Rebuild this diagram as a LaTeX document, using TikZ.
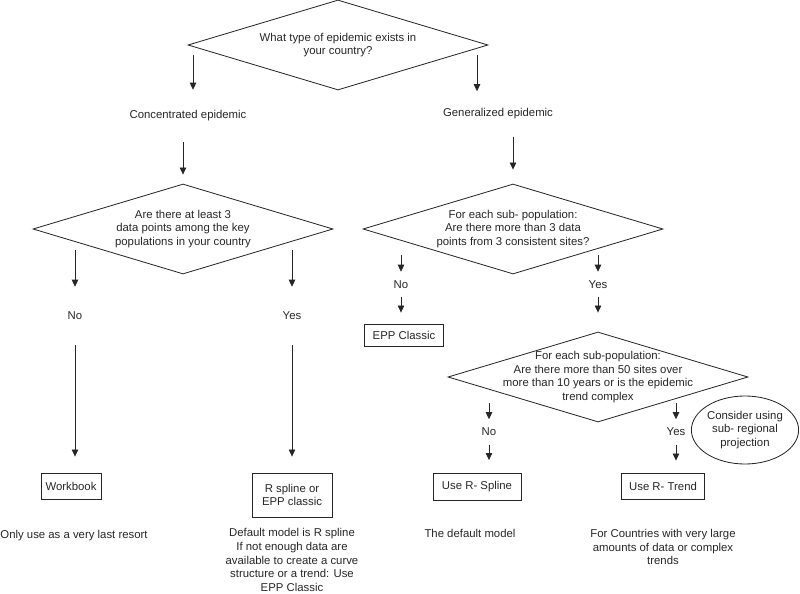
\documentclass[tikz,border=0pt]{standalone}
\usepackage{fontspec}
\setmainfont{Liberation Sans}
\usetikzlibrary{shapes.geometric,arrows.meta}

\begin{document}
\begin{tikzpicture}[x=0.03cm,y=-0.03cm,
  every node/.style={font=\fontsize{9.7}{11.7}\selectfont, text=black!85},
  decision/.style={diamond, draw=black!85, line width=0.7pt, minimum width=9cm, minimum height=2.7cm, inner sep=0},
  qtext/.style={align=center, inner sep=0},
  box/.style={draw=black!85, line width=0.7pt, align=center, inner sep=2pt},
  lbl/.style={inner sep=0, minimum height=#1},
  lbl/.default=0.75cm,
  note/.style={align=center, inner sep=0},
  arr/.style={draw=black!85, line width=0.7pt, -{Triangle[length=6pt,width=5.5pt]}},
]
  \useasboundingbox (0,0) rectangle (800,594);

  % type of epidemic
  \node[decision] (q1) at (338,45) {};
  \node[qtext] (q1t) at (q1) {What type of epidemic exists in\\your country?};
  \coordinate (q1l) at (193,55);
  \coordinate (q1r) at (477,55);
  \node[lbl=1.56cm] (conc) at (188,116) {Concentrated epidemic};
  \node[lbl=1.35cm] (gen) at (498,114) {Generalized epidemic};
  \draw[arr] (q1l) -- (q1l |- conc.north);
  \draw[arr] (q1r) -- (q1r |- gen.north);

  % concentrated branch
  \node[decision] (q2) at (183,229) {};
  \node[qtext] (q2t) at (q2) {Are there at least 3\\data points among the key\\populations in your country};
  \draw[arr, shorten >=0.27cm] (conc.south -| q2.north) -- (q2.north);
  \coordinate (q2l) at (75,250);
  \coordinate (q2r) at (292,250);
  \node[lbl=1.74cm] (no1) at (75,316) {No};
  \node[lbl=1.74cm] (yes1) at (292,316) {Yes};
  \draw[arr] (q2l) -- (no1.north);
  \draw[arr] (q2r) -- (yes1.north);
  \node[box, minimum width=1.8cm, minimum height=0.78cm] (wb) at (71,486) {Workbook};
  \node[box, minimum width=2.4cm, minimum height=1.32cm] (rs) at (292,495) {R spline or\\EPP classic};
  \draw[arr, shorten >=0.48cm] (no1.south) -- (no1.south |- wb.north);
  \draw[arr, shorten >=0.48cm] (yes1.south) -- (rs.north);
  \node[note] (n1) at (74,536) {Only use as a very last resort};
  \node[note] (n2) at (292,560) {Default model is R spline\\If not enough data are\\available to create a curve\\structure or a trend: Use\\EPP Classic};

  % generalized branch
  \node[decision] (q3) at (513,229) {};
  \node[qtext] (q3t) at (q3) {For each sub- population:\\Are there more than 3 data\\points from 3 consistent sites?};
  \draw[arr, shorten >=0.42cm] (gen.south -| q3.north) -- (q3.north);
  \coordinate (q3l) at (401,255);
  \coordinate (q3r) at (598,255);
  \node[lbl] (no2) at (401,284.5) {No};
  \node[lbl] (yes2) at (598,284.5) {Yes};
  \draw[arr] (q3l) -- (no2.north);
  \draw[arr] (q3r) -- (yes2.north);
  \node[box, minimum width=2.37cm, minimum height=0.66cm] (eppc) at (404,335) {EPP Classic};
  \draw[arr, shorten >=0.33cm] (no2.south) -- (no2.south |- eppc.north);

  \node[decision] (q4) at (598,377) {};
  \node[qtext] (q4t) at (q4) {For each sub-population:\\Are there more than 50 sites over\\more than 10 years or is the epidemic\\trend complex};
  \draw[arr, shorten >=0.57cm] (yes2.south) -- (q4.north);
  \coordinate (q4l) at (489,403);
  \coordinate (q4r) at (676,403);
  \node[lbl] (no3) at (489,432) {No};
  \node[lbl] (yes3) at (676,432) {Yes};
  \draw[arr] (q4l) -- (no3.north);
  \draw[arr] (q4r) -- (yes3.north);
  \node[ellipse, draw=black!85, line width=0.7pt, minimum width=3.1cm, minimum height=2.04cm, inner sep=0, align=center] (sub) at (745,430) {Consider using\\sub- regional\\projection};
  \node[box, minimum width=2.64cm, minimum height=0.81cm] (rspl) at (477,487) {Use R- Spline};
  \node[box, minimum width=2.49cm, minimum height=0.78cm] (rtr) at (663,486) {Use R- Trend};
  \draw[arr, shorten >=0.39cm] (no3.south) -- (no3.south |- rspl.north);
  \draw[arr, shorten >=0.36cm] (yes3.south) -- (yes3.south |- rtr.north);
  \node[note] (n3) at (470,533) {The default model};
  \node[note] (n4) at (663,547) {For Countries with very large\\amounts of data or complex\\trends};
\end{tikzpicture}
\end{document}
